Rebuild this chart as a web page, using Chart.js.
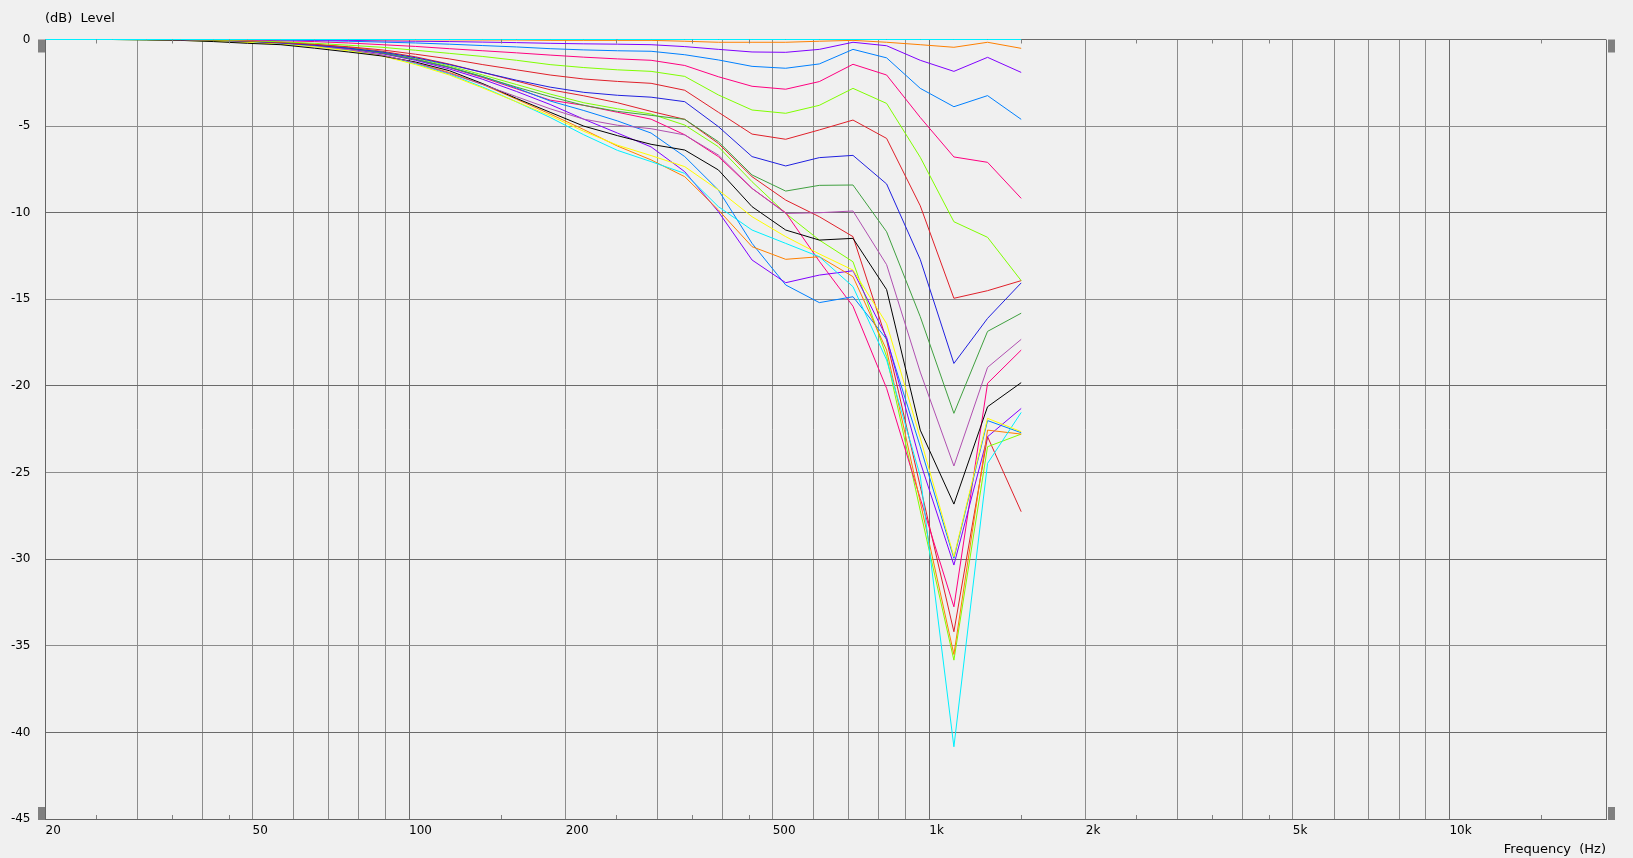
<!DOCTYPE html>
<html>
<head>
<meta charset="utf-8">
<title>Level vs Frequency</title>
<script src="https://cdn.jsdelivr.net/npm/chart.js@4.4.1/dist/chart.umd.min.js"></script>
<style>
  html, body { margin: 0; padding: 0; background: #f0f0f0; }
  #wrap { width: 1633px; height: 858px; }
</style>
</head>
<body>
<div id="wrap"><canvas id="levelChart" width="1633" height="858"></canvas></div>
<script>
// ---- measurement frequencies (Hz) ----
const freqHz = [20, 23.2, 26.9, 31.3, 36.3, 42.1, 48.9, 56.7, 65.8, 76.4,
                88.7, 102.9, 119.5, 138.6, 160.9, 186.7, 216.7, 251.5, 291.9, 338.8,
                393.2, 456.4, 529.7, 614.7, 713.5, 828.0, 961.0, 1115.3, 1294.5, 1502.3];

// ---- levels (dB), one array per curve ----
const curve1  = [0,0,0,0,0,0,0,0,0,0, 0,0,0,0,0, 0,0,0,0,0, 0,0,0,0,0, 0,0,0,0,0];
const curve2  = [0,0,0,0,0,0,0,0,0,0, -0.02,-0.02,-0.02,-0.03,-0.03, -0.05,-0.05,-0.05,-0.05,-0.1, -0.16,-0.16,-0.16,-0.1,-0.05, -0.16,-0.3,-0.45,-0.16,-0.51];
const curve3  = [0,0,0,0,0,0,0,0,-0.03,-0.05, -0.08,-0.1,-0.12,-0.15,-0.18, -0.22,-0.25,-0.27,-0.3,-0.41, -0.57,-0.72,-0.74,-0.57,-0.16, -0.36,-1.2,-1.84,-1.03,-1.9];
const curve4  = [0,0,0,0,0,0,0,-0.03,-0.06,-0.1, -0.15,-0.2,-0.27,-0.35,-0.43, -0.53,-0.6,-0.65,-0.68,-0.88, -1.18,-1.55,-1.66,-1.41,-0.57, -1.06,-2.82,-3.88,-3.24,-4.61];
const curve5  = [0,0,0,0,0,0,-0.03,-0.07,-0.12,-0.2, -0.3,-0.4,-0.53,-0.65,-0.77, -0.9,-1.02,-1.12,-1.2,-1.5, -2.15,-2.7,-2.87,-2.43,-1.43, -2.05,-4.5,-6.78,-7.09,-9.17];
const curve6  = [0,0,0,0,0,-0.03,-0.07,-0.13,-0.22,-0.33, -0.45,-0.62,-0.8,-0.98,-1.2, -1.45,-1.62,-1.75,-1.84,-2.13, -3.2,-4.07,-4.26,-3.8,-2.82, -3.69,-6.8,-10.52,-11.42,-13.92];
const curve7  = [0,0,0,0,0,-0.04,-0.09,-0.17,-0.28,-0.42, -0.6,-0.85,-1.12,-1.45,-1.75, -2.05,-2.28,-2.42,-2.53,-2.93, -4.2,-5.46,-5.76,-5.22,-4.65, -5.71,-9.6,-14.94,-14.5,-13.92];
const curve8  = [0,0,0,0,0,-0.05,-0.1,-0.2,-0.33,-0.5, -0.72,-1.05,-1.45,-1.9,-2.35, -2.75,-3.05,-3.22,-3.33,-3.59, -5.03,-6.76,-7.3,-6.82,-6.69, -8.34,-12.7,-18.7,-16.1,-14.05];
const curve9  = [0,0,0,0,0,-0.04,-0.09,-0.17,-0.3,-0.5, -0.78,-1.15,-1.6,-2.15,-2.75, -3.3,-3.8,-4.15,-4.38,-4.61, -5.9,-7.82,-8.75,-8.42,-8.4, -11.1,-16.0,-21.58,-16.85,-15.8];
const curve10 = [0,0,0,0,-0.02,-0.05,-0.1,-0.2,-0.35,-0.58, -0.9,-1.35,-1.95,-2.6,-3.3, -4.0,-4.6,-4.95,-5.15,-5.51, -6.67,-8.59,-10.04,-10.0,-9.9, -13.0,-19.2,-24.62,-18.93,-17.31];
const curve11 = [0,0,0,-0.02,-0.05,-0.12,-0.22,-0.3,-0.5,-0.72, -0.95,-1.3,-1.8,-2.55,-3.4, -4.2,-5.0,-5.55,-6.05,-6.38, -7.53,-9.65,-11.0,-11.58,-11.48, -14.44,-22.55,-26.82,-21.2,-19.81];
const curve12 = [0,0,0,-0.02,-0.05,-0.1,-0.17,-0.27,-0.42,-0.65, -0.95,-1.45,-2.05,-2.8,-3.6, -4.4,-5.3,-6.1,-6.7,-7.34, -8.69,-10.23,-11.38,-12.38,-13.31, -16.4,-23.0,-29.86,-21.87,-22.64];
const curve13 = [0,0,0,-0.02,-0.04,-0.08,-0.15,-0.25,-0.4,-0.62, -0.92,-1.4,-2.0,-2.75,-3.6, -4.5,-5.5,-6.4,-7.05,-7.73, -9.65,-11.0,-11.77,-12.54,-14.27, -18.5,-25.2,-40.83,-24.47,-21.53];
const curve14 = [0,0,0,0,-0.03,-0.07,-0.14,-0.23,-0.38,-0.6, -0.9,-1.35,-1.9,-2.6,-3.45, -4.3,-5.2,-6.15,-6.95,-7.92, -9.84,-11.96,-12.69,-12.54,-13.69, -17.93,-26.7,-35.5,-22.55,-22.78];
const curve15 = [0,0,0,0,-0.03,-0.06,-0.12,-0.2,-0.35,-0.55, -0.82,-1.2,-1.7,-2.3,-3.0, -3.75,-4.6,-5.4,-6.2,-7.63, -9.94,-12.73,-14.04,-13.6,-13.35, -17.2,-24.4,-30.34,-22.93,-21.3];
const curve16 = [0,0,0,0,-0.02,-0.05,-0.11,-0.19,-0.33,-0.52, -0.78,-1.15,-1.6,-2.15,-2.8, -3.55,-4.1,-4.7,-5.4,-6.76, -8.69,-11.77,-14.17,-15.19,-14.85, -17.3,-23.5,-29.95,-22.0,-22.7];
const curve17 = [0,0,0,0,-0.02,-0.05,-0.11,-0.2,-0.33,-0.52, -0.78,-1.15,-1.62,-2.2,-2.85, -3.5,-3.8,-4.2,-4.6,-5.5, -6.76,-8.6,-10.0,-12.8,-15.4, -20.14,-26.5,-32.75,-19.85,-17.93];
const curve18 = [0,0,0,0,-0.02,-0.04,-0.09,-0.17,-0.3,-0.48, -0.72,-1.08,-1.52,-2.05,-2.6, -3.15,-3.65,-4.0,-4.3,-4.94, -6.19,-8.21,-10.04,-11.58,-12.83, -18.3,-27.2,-35.83,-23.51,-22.78];
const curve19 = [0,0,0,0,-0.02,-0.04,-0.08,-0.16,-0.28,-0.45, -0.68,-1.0,-1.42,-1.9,-2.4, -2.9,-3.25,-3.65,-4.15,-4.61, -6.0,-7.92,-9.27,-10.23,-11.38, -17.35,-25.8,-34.19,-22.93,-27.26];

const curves = [curve1, curve2, curve3, curve4, curve5, curve6, curve7, curve8, curve9, curve10,
                curve11, curve12, curve13, curve14, curve15, curve16, curve17, curve18, curve19];

const lineColors = ['#00f0ff', '#ff8000', '#8000ff', '#0080ff', '#ff0080', '#80ff00', '#e0202a',
                    '#2020e0', '#40a040', '#b050b0', '#000000', '#ffff00',
                    '#00f0ff', '#ff8000', '#8000ff', '#0080ff', '#ff0080', '#80ff00', '#e0202a'];

// ---- axes ----
const gridFreqs = [20, 30, 40, 50, 60, 70, 80, 90, 100, 200, 300, 400, 500, 600, 700, 800, 900,
                   1000, 2000, 3000, 4000, 5000, 6000, 7000, 8000, 9000, 10000, 20000];
const labelFreqs = [20, 50, 100, 200, 500, 1000, 2000, 5000, 10000];
const labelTexts = ['20', '50', '100', '200', '500', '1k', '2k', '5k', '10k'];
const minorMarkFreqs = [25, 35, 45, 150, 250, 350, 450, 1500, 2500, 3500, 4500, 15000];
const decadeFreqs = [100, 1000, 10000];

const FONT = "'DejaVu Sans', sans-serif";
const DARK_GRID = '#6a6a6a';
const LIGHT_GRID = '#8c8c8c';

const decorPlugin = {
    id: 'decor',
    beforeDraw(chart) {
        const ctx = chart.ctx;
        ctx.save();
        ctx.fillStyle = '#f0f0f0';
        ctx.fillRect(0, 0, chart.width, chart.height);
        ctx.restore();
    },
    afterDraw(chart) {
        const ctx = chart.ctx;
        const area = chart.chartArea;
        const xs = chart.scales.x;
        ctx.save();
        // axis title at top left
        ctx.fillStyle = '#000';
        ctx.font = '13px ' + FONT;
        ctx.textBaseline = 'middle';
        ctx.textAlign = 'left';
        ctx.fillText('(dB)  Level', 45, 19);

        // small marks on top and bottom edges
        ctx.strokeStyle = '#808080';
        ctx.lineWidth = 1;
        minorMarkFreqs.forEach(function(f) {
            const px = Math.round(xs.getPixelForValue(f)) + 0.5;
            ctx.beginPath();
            ctx.moveTo(px, area.top);
            ctx.lineTo(px, area.top + 4);
            ctx.moveTo(px, area.bottom);
            ctx.lineTo(px, area.bottom - 4);
            ctx.stroke();
        });

        // scroll handles
        ctx.fillStyle = '#808080';
        const l = Math.round(area.left) - 8;
        const r = Math.round(area.right) + 2;
        const t = Math.round(area.top) - 0.5;
        const b = Math.round(area.bottom) - 12;
        ctx.fillRect(l, t, 7, 13);
        ctx.fillRect(l, b, 7, 13);
        ctx.fillRect(r, t, 7, 13);
        ctx.fillRect(r, b, 7, 13);
        ctx.restore();
    }
};

const datasets = curves.map(function(vals, i) {
    return {
        label: 'Curve ' + (i + 1),
        data: freqHz.map(function(f, j) { return { x: f, y: vals[j] }; }),
        borderColor: lineColors[i],
        backgroundColor: lineColors[i],
        borderWidth: 1,
        pointRadius: 0,
        tension: 0,
        fill: false,
        clip: false
    };
});

const ctx = document.getElementById('levelChart').getContext('2d');
const levelChart = new Chart(ctx, {
    type: 'line',
    data: { datasets: datasets },
    plugins: [decorPlugin],
    options: {
        responsive: false,
        animation: false,
        layout: { padding: { top: 39.5, right: 27, bottom: 0, left: 0 } },
        plugins: {
            legend: { display: false },
            tooltip: { enabled: false }
        },
        scales: {
            x: {
                type: 'logarithmic',
                min: 20,
                max: 20000,
                afterBuildTicks: function(scale) {
                    scale.ticks = gridFreqs.map(function(v) { return { value: v }; });
                },
                afterFit: function(scale) { scale.height = 39; },
                ticks: {
                    autoSkip: false,
                    maxRotation: 0,
                    minRotation: 0,
                    align: 'start',
                    padding: 5,
                    color: '#000',
                    font: { family: FONT, size: 12 },
                    callback: function(value) {
                        const idx = labelFreqs.indexOf(value);
                        return idx >= 0 ? labelTexts[idx] : '';
                    }
                },
                grid: {
                    drawTicks: false,
                    lineWidth: 1,
                    color: function(c) {
                        const v = c.tick ? c.tick.value : null;
                        if (v === 20 || v === 20000 || decadeFreqs.indexOf(v) >= 0) return DARK_GRID;
                        return LIGHT_GRID;
                    }
                },
                border: { display: true, color: '#646464', width: 1 },
                title: {
                    display: true,
                    text: 'Frequency  (Hz)',
                    align: 'end',
                    color: '#000',
                    font: { family: FONT, size: 13 },
                    padding: { top: 0, bottom: 1 }
                }
            },
            y: {
                type: 'linear',
                min: -45,
                max: 0,
                afterFit: function(scale) { scale.width = 45.5; },
                ticks: {
                    stepSize: 5,
                    padding: 15,
                    color: '#000',
                    font: { family: FONT, size: 12 }
                },
                grid: {
                    drawTicks: false,
                    lineWidth: 1,
                    color: function(c) {
                        const v = c.tick ? c.tick.value : null;
                        if (v === 0 || v === -45 || v % 10 === 0) return DARK_GRID;
                        return LIGHT_GRID;
                    }
                },
                border: { display: true, color: '#646464', width: 1 }
            }
        }
    }
});
</script>
</body>
</html>
